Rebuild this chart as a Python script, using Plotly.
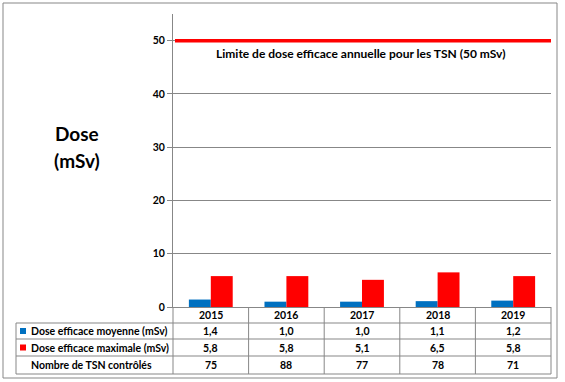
import plotly.graph_objects as go

years = ["2015", "2016", "2017", "2018", "2019"]
dose_moyenne = [1.4, 1.0, 1.0, 1.1, 1.2]
dose_maximale = [5.8, 5.8, 5.1, 6.5, 5.8]
nombre_tsn = [75, 88, 77, 78, 71]
limite = 50
row_labels = ["Dose efficace moyenne (mSv)", "Dose efficace maximale (mSv)", "Nombre de TSN contrôlés"]
limit_label = "Limite de dose efficace annuelle pour les TSN (50 mSv)"

W, H = 565, 382
BLUE = "#0070C0"
RED = "#FF0000"
GRID = "#878787"
FONT = "Lato"

def px(x):
    return x / W

def py(y):
    return 1 - y / H

x0, x1 = 173, 551
y_top, y_axis = 14, 307
colw = (x1 - x0) / len(years)

fig = go.Figure()
fig.add_trace(go.Bar(x=years, y=dose_moyenne, marker_color=BLUE, name=row_labels[0]))
fig.add_trace(go.Bar(x=years, y=dose_maximale, marker_color=RED, name=row_labels[1]))

shapes = []
annotations = []

def line(xa, ya, xb, yb, color=GRID, width=1):
    shapes.append(dict(type="line", xref="paper", yref="paper",
                       x0=px(xa), y0=py(ya), x1=px(xb), y1=py(yb),
                       line=dict(color=color, width=width)))

# outer border
shapes.append(dict(type="rect", xref="paper", yref="paper",
                   x0=px(3), y0=py(378), x1=px(557), y1=py(3),
                   line=dict(color=GRID, width=1)))

# limit line
shapes.append(dict(type="line", xref="paper", yref="y",
                   x0=px(175), x1=px(551), y0=limite, y1=limite,
                   line=dict(color=RED, width=3.5)))

# table lines
row_y = [307, 323, 339, 356, 374]
for yy in row_y[1:]:
    line(16, yy, x1, yy)
line(16, 323, 16, 374)
for i in range(len(years) + 1):
    xx = x0 + colw * i
    line(xx, 307, xx, 374)

def text(x, y, s, size=10.5, xanchor="center"):
    annotations.append(dict(xref="paper", yref="paper", x=px(x), y=py(y), text=s,
                            showarrow=False, xanchor=xanchor, yanchor="middle",
                            font=dict(family=FONT, size=size, color="black", weight="bold")))

centers = [x0 + colw * (i + 0.5) for i in range(len(years))]
for i, yr in enumerate(years):
    text(centers[i], 315, yr)
    text(centers[i], 331, f"{dose_moyenne[i]:.1f}".replace(".", ","))
    text(centers[i], 347.5, f"{dose_maximale[i]:.1f}".replace(".", ","))
    text(centers[i], 365, str(nombre_tsn[i]))

rows_c = [331, 347.5, 365]
for j, lab in enumerate(row_labels):
    text(29, rows_c[j], lab, xanchor="left")
for j, col in enumerate([BLUE, RED]):
    shapes.append(dict(type="rect", xref="paper", yref="paper",
                       x0=px(20), x1=px(26), y0=py(rows_c[j] + 3), y1=py(rows_c[j] - 3),
                       line=dict(width=0), fillcolor=col))

# y-axis title
text(77, 133, "Dose", size=19)
text(77, 160, "(mSv)", size=19)

# limit label
annotations.append(dict(xref="paper", yref="y", x=px(360), y=limite - 2.4, text=limit_label,
                        showarrow=False, xanchor="center", yanchor="middle",
                        font=dict(family=FONT, size=12, color="black", weight="bold")))

fig.update_layout(
    template="none",
    width=W, height=H,
    margin=dict(l=0, r=0, t=0, b=0, pad=0),
    paper_bgcolor="white", plot_bgcolor="white",
    showlegend=False,
    barmode="group", bargap=0.42, bargroupgap=0,
    shapes=shapes, annotations=annotations,
    xaxis=dict(domain=[px(x0), px(x1)], showticklabels=False, showline=True, automargin=False,
               linecolor=GRID, linewidth=1, showgrid=False, ticks=""),
    yaxis=dict(domain=[py(y_axis), py(y_top)], range=[0, 55], tickvals=[0, 10, 20, 30, 40, 50],
               automargin=False,
               showline=True, linecolor=GRID, linewidth=1, showgrid=True, gridcolor=GRID,
               gridwidth=1, ticks="outside", ticklen=5, tickcolor=GRID, zeroline=False,
               tickfont=dict(family=FONT, size=10.5, color="black", weight="bold")),
)

fig.write_html("out.html", config={"displayModeBar": False},
               post_script="document.body.style.margin='0';document.body.style.overflow='hidden';")
